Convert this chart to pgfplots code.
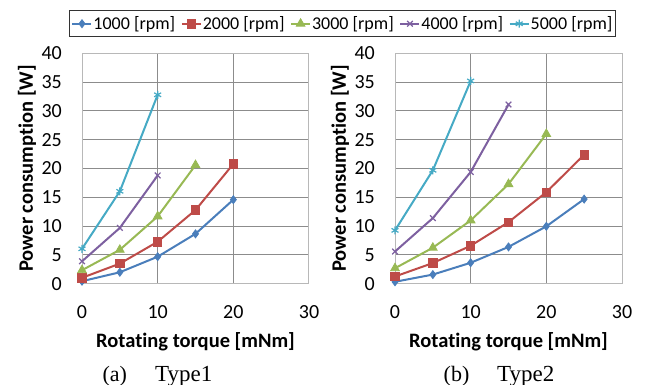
\documentclass[border=0pt]{standalone}
\usepackage{pgfplots}
\pgfplotsset{compat=1.18}
\usepackage{fontspec}
\setmainfont{Carlito}[RawFeature={-liga;-calt;-dlig;-clig}]
\newfontfamily\capfont{Liberation Serif}
\definecolor{c1}{HTML}{4A7EBB}
\definecolor{c2}{HTML}{BE4B48}
\definecolor{c3}{HTML}{98B954}
\definecolor{c4}{HTML}{7D60A0}
\definecolor{c5}{HTML}{46AAC5}
\pgfplotsset{
  myaxis/.style={
    scale only axis, width=227bp, height=230.5bp,
    xmin=0, xmax=30, ymin=0, ymax=40,
    xtick={0,10,20,30}, ytick={0,5,...,40},
    grid=major,
    major grid style={draw=black!45, line width=1bp},
    axis line style={draw=black!28, line width=1bp},
    major tick length=0pt,
    /pgf/number format/assume math mode=true,
    tick label style={font=\fontsize{20bp}{24bp}\selectfont, inner sep=0pt},
    yticklabel style={anchor=east, xshift=-20bp},
    xticklabel style={anchor=north, yshift=-21.6bp},
    label style={font=\bfseries\fontsize{20.5bp}{24bp}\selectfont, inner sep=0pt},
    xlabel={Rotating torque [mNm]},
    ylabel={Power consumption [W]},
    xlabel style={at={(axis description cs:0.5,-0.2512)}, anchor=center},
    ylabel style={at={(axis description cs:-0.2423,0.5)}, anchor=center},
    every axis plot/.append style={line width=2bp},
  },
  s1/.style={c1, mark=diamond*, mark size=4bp, mark options={line width=0.8bp}},
  s2/.style={c2, mark=square*, mark size=4.2bp, mark options={line width=0.8bp}},
  s3/.style={c3, mark=triangle*, mark size=5bp, mark options={line width=0.8bp}},
  s4/.style={c4, mark=x, mark size=4bp, mark options={line width=1.2bp}},
  s5/.style={c5, mark=asterisk, mark size=4bp, mark options={line width=1.2bp}},
}
\begin{document}
\begin{tikzpicture}
\path[use as bounding box] (0bp,0bp) rectangle (648bp,385bp);
\begin{axis}[myaxis, at={(82bp,101.2bp)}, anchor=south west,
  legend columns=5,
  legend style={at={(axis description cs:-0.0573,1.1879)}, anchor=north west,
    draw=black!80, line width=1bp, font=\fontsize{18bp}{21bp}\selectfont,
    inner xsep=2bp, inner ysep=4bp,
    /tikz/every even column/.append style={column sep=4.6bp},
    nodes={inner xsep=1bp}},
  legend image code/.code={\draw[mark repeat=2,mark phase=2] plot coordinates {(0bp,0bp) (9.5bp,0bp) (19bp,0bp)};},
  ]
\addplot[s1] coordinates {(0,0.45)(5,2.0)(10,4.7)(15,8.67)(20,14.6)};
\addplot[s2] coordinates {(0,1.04)(5,3.5)(10,7.3)(15,12.8)(20,20.8)};
\addplot[s3] coordinates {(0,2.36)(5,5.9)(10,11.7)(15,20.6)};
\addplot[s4] coordinates {(0,3.9)(5,9.7)(10,18.8)};
\addplot[s5] coordinates {(0,6.07)(5,16.05)(10,32.8)};
\legend{1000 [rpm],2000 [rpm],3000 [rpm],4000 [rpm],5000 [rpm]}
\end{axis}
\begin{axis}[myaxis, at={(395bp,101.2bp)}, anchor=south west]
\addplot[s1] coordinates {(0,0.35)(5,1.6)(10,3.65)(15,6.4)(20,9.97)(25,14.7)};
\addplot[s2] coordinates {(0,1.27)(5,3.6)(10,6.6)(15,10.7)(20,15.9)(25,22.4)};
\addplot[s3] coordinates {(0,2.7)(5,6.26)(10,11.0)(15,17.3)(20,26.0)};
\addplot[s4] coordinates {(0,5.6)(5,11.4)(10,19.4)(15,31.1)};
\addplot[s5] coordinates {(0,9.27)(5,19.7)(10,35.2)};
\end{axis}
\node[anchor=base west, inner sep=0pt, font=\capfont\fontsize{22bp}{26bp}\selectfont] at (102.3bp,4bp) {(a)};
\node[anchor=base west, inner sep=0pt, font=\capfont\fontsize{23bp}{26bp}\selectfont] at (155bp,4bp) {Type1};
\node[anchor=base west, inner sep=0pt, font=\capfont\fontsize{22bp}{26bp}\selectfont] at (443.5bp,4bp) {(b)};
\node[anchor=base west, inner sep=0pt, font=\capfont\fontsize{23bp}{26bp}\selectfont] at (497bp,4bp) {Type2};
\end{tikzpicture}
\end{document}
